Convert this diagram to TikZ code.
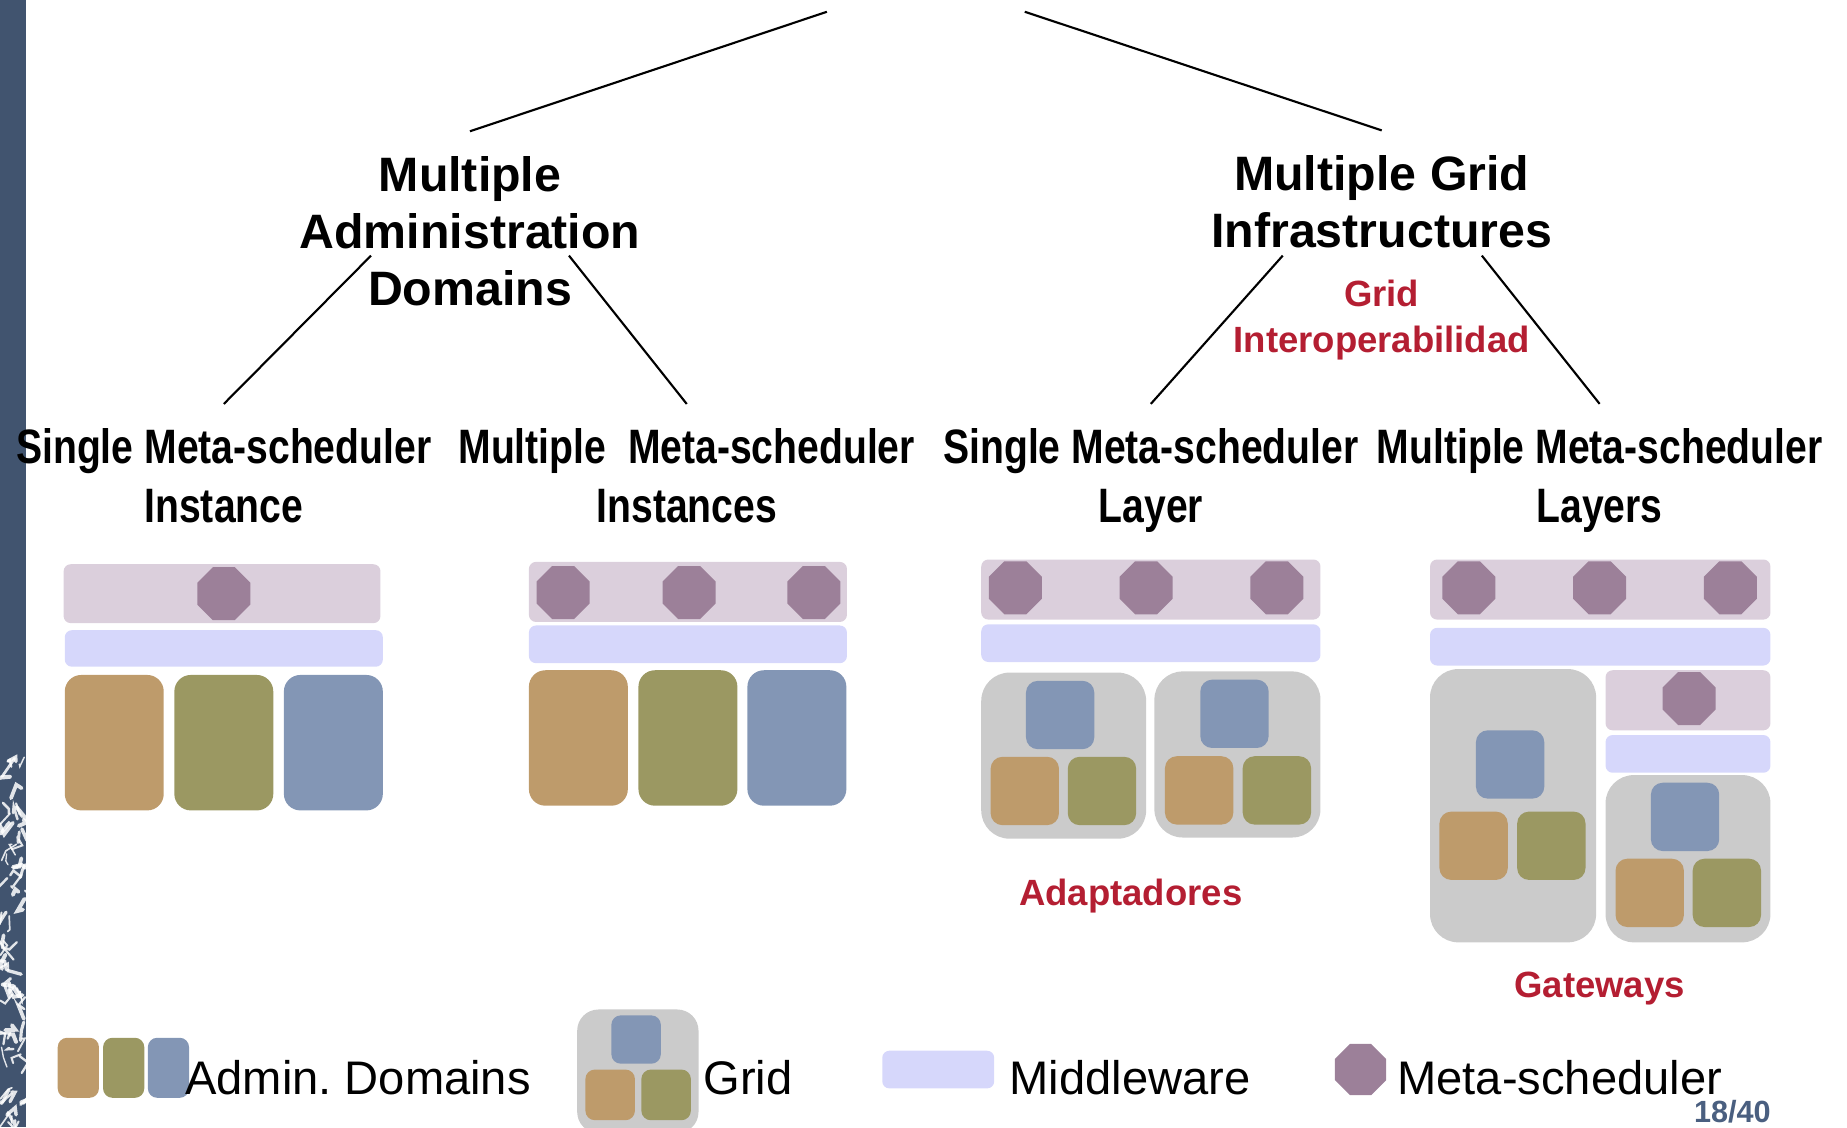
\documentclass[tikz,border=0pt]{standalone}
\usepackage{fontspec}
\setmainfont{Liberation Sans}
\newfontfamily\narrowfont[FakeStretch=0.81]{Liberation Sans}
\usetikzlibrary{shapes.geometric,calc}
\frenchspacing

\definecolor{sidebar}{HTML}{41546F}
\definecolor{metabg}{HTML}{DBCFDC}
\definecolor{metaoct}{HTML}{9C8099}
\definecolor{midware}{HTML}{D6D7FB}
\definecolor{dombrown}{HTML}{BE9B6B}
\definecolor{domgreen}{HTML}{9B9862}
\definecolor{domblue}{HTML}{8396B5}
\definecolor{gridgray}{HTML}{CBCBCB}
\definecolor{labelred}{HTML}{B41E32}
\definecolor{pagenum}{HTML}{4A5F80}

\tikzset{
  box/.style={draw=none, inner sep=0pt, outer sep=0pt},
  metabar/.style={box, fill=metabg, rounded corners=6pt},
  mwbar/.style={box, fill=midware, rounded corners=6pt},
  octa/.style={box, regular polygon, regular polygon sides=8, minimum size=48.7pt, fill=metaoct},
  dom/.style={box, rounded corners=14pt, minimum width=84pt, minimum height=115pt},
  cell/.style={box, rounded corners=10pt, minimum width=58pt, minimum height=58pt},
  gridbox/.style={box, fill=gridgray, rounded corners=24pt},
  title/.style={align=center, inner sep=0pt, outer sep=21pt,
    font=\bfseries\fontsize{41}{48.5}\selectfont},
  sublabel/.style={align=center, inner sep=0pt, outer sep=21pt,
    font=\narrowfont\bfseries\fontsize{41}{50}\selectfont},
  redlabel/.style={align=center, inner sep=0pt, text=labelred,
    font=\bfseries\fontsize{31}{39}\selectfont},
  legend/.style={inner sep=0pt, anchor=base west, font=\fontsize{40}{46}\selectfont},
  branch/.style={line width=1.8pt, black}
}

\begin{document}
\begin{tikzpicture}[x=1pt, y=-1pt]
        \useasboundingbox (0,0) rectangle (1568,957);
        \clip (0,0) rectangle (1568,957);

        % Side bar of the slide
        \fill[sidebar] (0,0) rectangle (22,957);
        \begin{scope}
          \clip (0,0) rectangle (22,957);
          \pgfmathsetseed{12}
          \foreach \i in {1,...,70} {
            \pgfmathsetmacro{\xa}{rnd*22}
            \pgfmathsetmacro{\ya}{640+rnd*317}
            \draw[white, opacity=0.85, line width=1pt+rnd*2.5pt, line cap=round]
              (\xa,\ya) -- ++(rand*9, rand*12) -- ++(rand*6, rand*9);
          }
        \end{scope}

        % Tree labels
        \node[title] (mad) at (399,196) {Multiple\\Administration\\Domains};
        \node[title] (mgi) at (1173,171) {Multiple Grid\\Infrastructures};
        \node[redlabel] (gio) at (1173,272) {Grid\\Interoperabilidad};
        \node[sublabel] (smi) at (190,404) {Single Meta-scheduler\\Instance};
        \node[sublabel] (mmi) at (583,404) {Multiple\ \ Meta-scheduler\\Instances};
        \node[sublabel] (sml) at (977,408) {Single Meta-scheduler\\Layer};
        \node[sublabel] (mml) at (1358,408) {Multiple Meta-scheduler\\Layers};

        % Branches of the tree
        \coordinate (apexl) at (702,10);
        \coordinate (apexr) at (870,10);
        \draw[branch] (apexl) -- (mad.north);
        \draw[branch] (apexr) -- (mgi.north);
        \draw[branch] ($(mad.center)+(-84,21)$) -- (smi.north);
        \draw[branch] ($(mad.center)+(84,21)$) -- (mmi.north);
        \draw[branch] ($(mgi.center)+(-84,46)$) -- (sml.north);
        \draw[branch] ($(mgi.center)+(85,46)$) -- (mml.north);

        % Single meta-scheduler instance
        \node[metabar, minimum width=269pt, minimum height=50pt] (mb1) at (188.5,504) {};
        \node[octa] (ms1) at (190,504) {};
        \node[mwbar, minimum width=270pt, minimum height=31pt] (mw1) at (190,550.5) {};
        \node[dom, fill=dombrown] (ad1a) at (97,630.5) {};
        \node[dom, fill=domgreen] (ad1b) at (190,630.5) {};
        \node[dom, fill=domblue] (ad1c) at (283,630.5) {};

        % Multiple meta-scheduler instances
        \node[metabar, minimum width=270pt, minimum height=51pt] (mb2) at (584,502.5) {};
        \foreach \x/\n in {478/a, 585/b, 691/c}
          \node[octa] (ms2\n) at (\x,503) {};
        \node[mwbar, minimum width=270pt, minimum height=32pt] (mw2) at (584,547) {};
        \node[dom, fill=dombrown] (ad2a) at (491,626.5) {};
        \node[dom, fill=domgreen] (ad2b) at (584,626.5) {};
        \node[dom, fill=domblue] (ad2c) at (676.5,626.5) {};

        % Single meta-scheduler layer
        \node[metabar, minimum width=288pt, minimum height=51pt] (mb3) at (977,500.5) {};
        \foreach \x/\n in {862/a, 973/b, 1084/c}
          \node[octa] (ms3\n) at (\x,499) {};
        \node[mwbar, minimum width=288pt, minimum height=32pt] (mw3) at (977,546) {};
        \node[gridbox, minimum width=140pt, minimum height=141pt] (g3a) at (903,641.5) {};
        \node[cell, fill=domblue] (g3a1) at (900,607) {};
        \node[cell, fill=dombrown] (g3a2) at (870,671.5) {};
        \node[cell, fill=domgreen] (g3a3) at (935.5,671.5) {};
        \node[gridbox, minimum width=141pt, minimum height=141pt] (g3b) at (1050.5,640.5) {};
        \node[cell, fill=domblue] (g3b1) at (1048,606) {};
        \node[cell, fill=dombrown] (g3b2) at (1018,671) {};
        \node[cell, fill=domgreen] (g3b3) at (1084,671) {};
        \node[redlabel, anchor=base] (adapt) at (960,769) {Adaptadores};

        % Multiple meta-scheduler layers
        \node[metabar, minimum width=289pt, minimum height=51pt] (mb4) at (1358.5,500.5) {};
        \foreach \x/\n in {1247/a, 1358/b, 1469/c}
          \node[octa] (ms4\n) at (\x,499) {};
        \node[mwbar, minimum width=289pt, minimum height=32pt] (mw4) at (1358.5,549) {};
        \node[gridbox, minimum width=141pt, minimum height=232pt] (g4a) at (1284.5,684) {};
        \node[cell, fill=domblue] (g4a1) at (1282,649) {};
        \node[cell, fill=dombrown] (g4a2) at (1251,718) {};
        \node[cell, fill=domgreen] (g4a3) at (1317,718) {};
        \node[metabar, minimum width=140pt, minimum height=51pt] (mb4s) at (1433,594.5) {};
        \node[octa] (ms4s) at (1434,593) {};
        \node[mwbar, minimum width=140pt, minimum height=32pt] (mw4s) at (1433,640) {};
        \node[gridbox, minimum width=140pt, minimum height=142pt] (g4b) at (1433,729) {};
        \node[cell, fill=domblue] (g4b1) at (1430.5,693.5) {};
        \node[cell, fill=dombrown] (g4b2) at (1400.5,758) {};
        \node[cell, fill=domgreen] (g4b3) at (1466,758) {};
        \node[redlabel, anchor=base] (gate) at (1358,847) {Gateways};

        % Legend
        \node[box, fill=dombrown, rounded corners=8pt, minimum width=35pt, minimum height=51pt] (lga) at (66.5,906.5) {};
        \node[box, fill=domgreen, rounded corners=8pt, minimum width=35pt, minimum height=51pt] (lgb) at (105,906.5) {};
        \node[box, fill=domblue, rounded corners=8pt, minimum width=35pt, minimum height=51pt] (lgc) at (143,906.5) {};
        \node[legend] (lgadm) at (157,929) {Admin. Domains};
        \node[gridbox, rounded corners=18pt, minimum width=103pt, minimum height=105pt] (lgg) at (541.5,909.5) {};
        \node[box, fill=domblue, rounded corners=8pt, minimum width=42pt, minimum height=41pt] (lgg1) at (540,882.5) {};
        \node[box, fill=dombrown, rounded corners=8pt, minimum width=42pt, minimum height=43pt] (lgg2) at (518,929.5) {};
        \node[box, fill=domgreen, rounded corners=8pt, minimum width=42pt, minimum height=43pt] (lgg3) at (565.5,929.5) {};
        \node[legend] (lggrid) at (597,929) {Grid};
        \node[mwbar, minimum width=95pt, minimum height=32pt] (lgm) at (796.5,908) {};
        \node[legend] (lgmid) at (857,929) {Middleware};
        \node[octa, minimum size=47pt] (lgo) at (1155,908) {};
        \node[legend] (lgmeta) at (1186,929) {Meta-scheduler};

        % Slide number
        \node[inner sep=0pt, anchor=base west, text=pagenum,
          font=\bfseries\fontsize{26}{30}\selectfont] (pg) at (1438,953) {18/40};
    \end{tikzpicture}
\end{document}
